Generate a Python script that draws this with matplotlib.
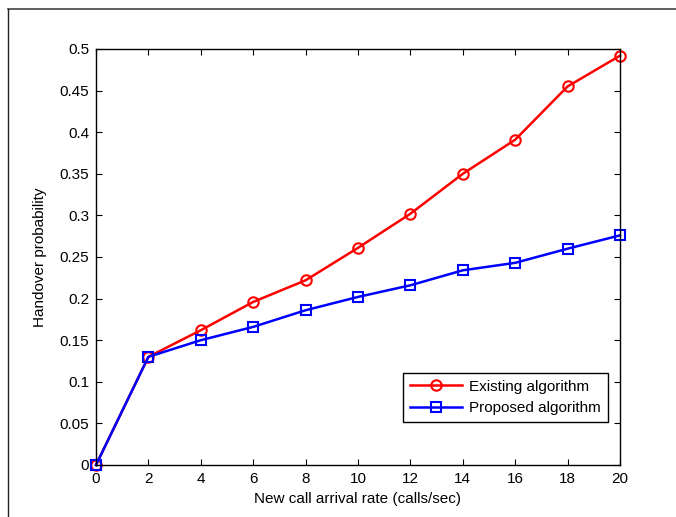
import matplotlib
matplotlib.use("Agg")
import matplotlib.pyplot as plt
from matplotlib.lines import Line2D

plt.rcParams["font.family"] = ["Liberation Sans", "DejaVu Sans"]

arrival_rate = [0, 2, 4, 6, 8, 10, 12, 14, 16, 18, 20]
existing = [0.0, 0.130, 0.162, 0.196, 0.222, 0.261, 0.302, 0.350, 0.391, 0.455, 0.492]
proposed = [0.0, 0.130, 0.150, 0.166, 0.186, 0.202, 0.216, 0.234, 0.243, 0.260, 0.276]
y_ticks = [0, 0.05, 0.1, 0.15, 0.2, 0.25, 0.3, 0.35, 0.4, 0.45, 0.5]
y_labels = ["0", "0.05", "0.1", "0.15", "0.2", "0.25", "0.3", "0.35", "0.4", "0.45", "0.5"]

fig = plt.figure(figsize=(6.76, 5.17), dpi=100)
ax = fig.add_axes([96 / 676, 52 / 517, 524 / 676, 416 / 517])

ax.plot(arrival_rate, existing, color="#ff0000", lw=1.8, marker="o", ms=7.5,
        mfc="none", mew=1.5, label="Existing algorithm", clip_on=False)
ax.plot(arrival_rate, proposed, color="#0000ff", lw=1.8, marker="s", ms=7.5,
        mfc="none", mew=1.5, label="Proposed algorithm", clip_on=False)

ax.set_xlim(0, 20)
ax.set_ylim(0, 0.5)
ax.set_xticks(arrival_rate)
ax.set_yticks(y_ticks)
ax.set_yticklabels(y_labels)
ax.tick_params(direction="in", top=True, right=True, length=4, width=0.8,
               labelsize=11, pad=5, colors="black")
for s in ax.spines.values():
    s.set_linewidth(1.0)
    s.set_color("black")

ax.set_xlabel("New call arrival rate (calls/sec)", fontsize=11, labelpad=4)
ax.set_ylabel("Handover probability", fontsize=11, labelpad=9)

leg = ax.legend(loc="lower right", bbox_to_anchor=(0.977, 0.103), fontsize=11,
                fancybox=False, framealpha=1, edgecolor="black",
                handlelength=3.4, borderpad=0.45, labelspacing=0.5,
                handletextpad=0.5, borderaxespad=0)
leg.get_frame().set_linewidth(1.0)

# outer frame of the exported figure
fig.add_artist(Line2D([8 / 676, 1], [1 - 9 / 517, 1 - 9 / 517],
                      transform=fig.transFigure, color="#444444", lw=1.2))
fig.add_artist(Line2D([8 / 676, 8 / 676], [0, 1 - 9 / 517],
                      transform=fig.transFigure, color="#222222", lw=1.0))

fig.savefig("out.png", dpi=100)
